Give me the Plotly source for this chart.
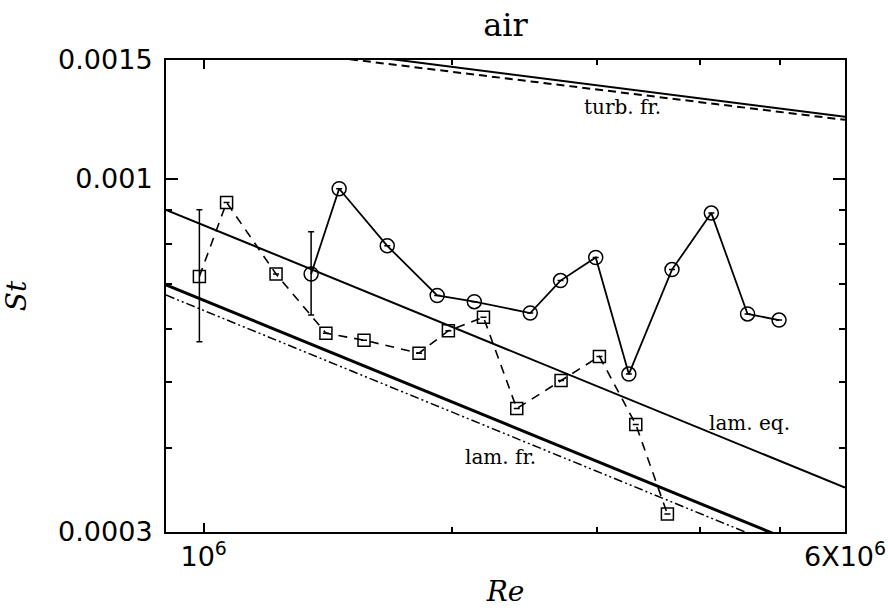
import math
import plotly.graph_objects as go

# Measured Stanton numbers vs Reynolds number, air
re_circle = [1.35e6, 1.46e6, 1.67e6, 1.92e6, 2.13e6, 2.49e6, 2.71e6,
             2.99e6, 3.28e6, 3.70e6, 4.13e6, 4.57e6, 4.99e6]
st_circle = [0.000723, 0.000967, 0.000796, 0.000672, 0.000658, 0.000633, 0.000707,
             0.000765, 0.000514, 0.000734, 0.000890, 0.000631, 0.000618]
err_circle_plus = [0.000112] + [0] * 12
err_circle_minus = [0.000094] + [0] * 12

re_square = [0.988e6, 1.066e6, 1.224e6, 1.407e6, 1.565e6, 1.825e6, 1.981e6,
             2.185e6, 2.398e6, 2.714e6, 3.021e6, 3.344e6, 3.653e6]
st_square = [0.000717, 0.000923, 0.000723, 0.000591, 0.000577, 0.000552, 0.000596,
             0.000624, 0.000457, 0.000503, 0.000546, 0.000433, 0.000319]
err_square_plus = [0.000183] + [0] * 12
err_square_minus = [0.000143] + [0] * 12

# Reference correlations (straight lines in log-log), end points
re_line = [9.0e5, 6.0e6]
st_lam_eq = [0.000900, 0.000349]
st_lam_fr = [0.000697, 0.000270]
st_lam_fr2 = [0.000673, 0.000261]
re_turb = [1.4e6, 6.0e6]
st_turb_fr = [0.001549, 0.001236]
st_turb_fr2 = [0.001520, 0.001223]

# Axis limits and tick labels
re_range = [9.0e5, 6.0e6]
st_range = [0.0003, 0.0015]
x_tickvals = [1e6, 6e6]
x_ticktext = ["10<sup>6</sup>", "6X10<sup>6</sup>"]
x_minor = [2e6, 3e6, 4e6, 5e6]
y_tickvals = [0.0003, 0.001, 0.0015]
y_ticktext = ["0.0003", "0.001", "0.0015"]
y_minor = [0.0004, 0.0005, 0.0006, 0.0007, 0.0008, 0.0009]

black = "#000000"
serif = "DejaVu Serif"

fig = go.Figure()

# theory lines
fig.add_trace(go.Scatter(x=re_line, y=st_lam_eq, mode="lines",
                         line=dict(color=black, width=2)))
fig.add_trace(go.Scatter(x=re_line, y=st_lam_fr, mode="lines",
                         line=dict(color=black, width=3)))
fig.add_trace(go.Scatter(x=re_line, y=st_lam_fr2, mode="lines",
                         line=dict(color=black, width=1.5, dash="9px,3px,2px,3px,2px,3px")))
fig.add_trace(go.Scatter(x=re_turb, y=st_turb_fr, mode="lines",
                         line=dict(color=black, width=2)))
fig.add_trace(go.Scatter(x=re_turb, y=st_turb_fr2, mode="lines",
                         line=dict(color=black, width=2, dash="8px,5px")))

# data
fig.add_trace(go.Scatter(
    x=re_square, y=st_square, mode="lines+markers",
    line=dict(color=black, width=1.6, dash="9px,7px"),
    marker=dict(symbol="square-open", size=12, color=black, line=dict(width=1.5)),
    error_y=dict(type="data", symmetric=False, array=err_square_plus,
                 arrayminus=err_square_minus, color=black, thickness=1.5, width=3),
))
fig.add_trace(go.Scatter(
    x=re_circle, y=st_circle, mode="lines+markers",
    line=dict(color=black, width=1.8),
    marker=dict(symbol="circle-open", size=14, color=black, line=dict(width=1.5)),
    error_y=dict(type="data", symmetric=False, array=err_circle_plus,
                 arrayminus=err_circle_minus, color=black, thickness=1.5, width=3),
))

label_font = dict(family=serif, size=20, color=black)
for text, xv, yv in [("turb. fr.", 3.22e6, 0.001278),
                     ("lam. eq.", 4.60e6, 0.000435),
                     ("lam. fr.", 2.29e6, 0.000388)]:
    fig.add_annotation(x=math.log10(xv), y=math.log10(yv), text=text,
                       showarrow=False, font=label_font)

axis_common = dict(
    showgrid=False, zeroline=False, showline=True, linecolor=black, linewidth=2,
    mirror="allticks", ticks="inside", tickcolor=black, tickwidth=1.5,
    tickfont=dict(family="DejaVu Sans", size=27, color=black),
)

fig.update_xaxes(
    type="log", range=[math.log10(v) for v in re_range],
    tickmode="array", tickvals=x_tickvals, ticktext=x_ticktext, ticklen=9,
    minor=dict(tickmode="array", tickvals=x_minor, ticks="inside", ticklen=5,
               tickcolor=black, tickwidth=1.5),
    title=dict(text="<i>Re</i>", font=dict(family=serif, size=28, color=black), standoff=12),
    **axis_common,
)
fig.update_yaxes(
    type="log", range=[math.log10(v) for v in st_range],
    tickmode="array", tickvals=y_tickvals, ticktext=y_ticktext, ticklen=12,
    minor=dict(tickmode="array", tickvals=y_minor, ticks="inside", ticklen=6,
               tickcolor=black, tickwidth=1.5),
    title=dict(text="<i>St</i>", font=dict(family=serif, size=28, color=black), standoff=24),
    ticklabelstandoff=6,
    **axis_common,
)

fig.update_layout(
    width=888, height=608,
    margin=dict(l=166, r=43, t=60, b=76, autoexpand=False),
    paper_bgcolor="white", plot_bgcolor="white",
    showlegend=False,
    title=dict(text="air", x=0.5, xref="paper", y=1 - 25 / 608, yanchor="middle",
               font=dict(family=serif, size=32, color=black)),
)

fig.write_html("out.html")
